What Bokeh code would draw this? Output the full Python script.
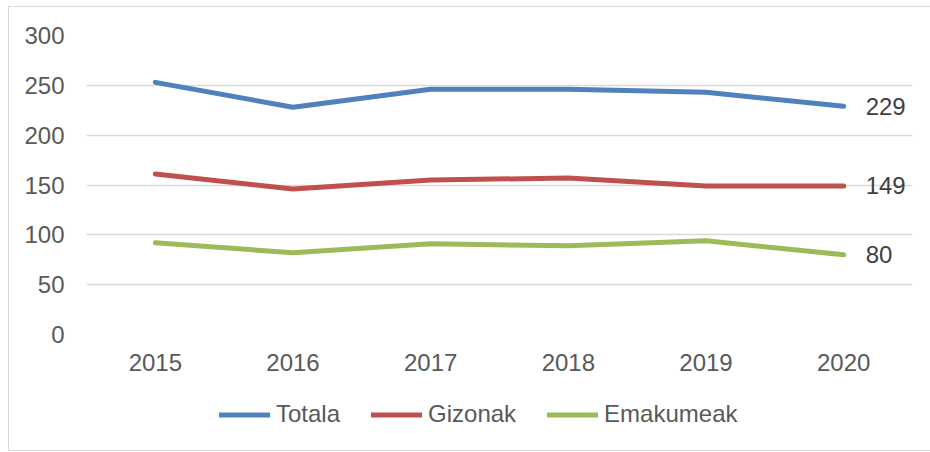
from bokeh.plotting import figure
from bokeh.models import ColumnDataSource, Legend, LegendItem, FactorRange, Range1d
from bokeh.layouts import column
from bokeh.core.properties import value
from bokeh.embed import file_html
from bokeh.resources import INLINE

years = ["2015", "2016", "2017", "2018", "2019", "2020"]
totala = [253, 228, 246, 246, 243, 229]
gizonak = [161, 146, 155, 157, 149, 149]
emakumeak = [92, 82, 91, 89, 94, 80]
series_names = ["Totala", "Gizonak", "Emakumeak"]
y_ticks = [0, 50, 100, 150, 200, 250, 300]

colors = ["#4F81BD", "#C0504D", "#9BBB59"]
FONT = "Liberation Sans"
FS = "24px"

p = figure(width=930, height=384, x_range=FactorRange(*years, range_padding=0),
           y_range=(0, 300), output_backend="svg", toolbar_location=None,
           min_border_left=86, min_border_right=18, min_border_top=35,
           min_border_bottom=50)
p.outline_line_color = None
p.background_fill_color = None
p.border_fill_color = None

p.xgrid.grid_line_color = None
p.ygrid.grid_line_color = "#D9D9D9"
p.ygrid.grid_line_width = 1.5
p.yaxis.ticker = y_ticks

for ax in (p.xaxis, p.yaxis):
    ax.axis_line_color = None
    ax.major_tick_line_color = None
    ax.minor_tick_line_color = None
    ax.major_tick_in = 0
    ax.major_tick_out = 0
    ax.major_label_text_font = FONT
    ax.major_label_text_font_size = FS
    ax.major_label_text_color = "#595959"
p.yaxis.major_label_standoff = 22
p.xaxis.major_label_standoff = 19

series = [totala, gizonak, emakumeak]
for name, vals, c in zip(series_names, series, colors):
    src = ColumnDataSource(dict(x=years, y=vals))
    p.line("x", "y", source=src, line_color=c, line_width=5,
           line_cap="round", line_join="round")

end_src = ColumnDataSource(dict(x=[years[-1]] * 3,
                                y=[s[-1] for s in series],
                                t=[str(s[-1]) for s in series]))
p.text("x", "y", text="t", source=end_src, x_offset=22, text_align="left",
       text_baseline="middle", text_font=value(FONT), text_font_size="24px",
       text_color="#404040")

# legend strip below the chart (its frame is aligned with the chart's frame)
p2 = figure(width=930, height=67, output_backend="svg", toolbar_location=None,
            x_axis_location=None, y_axis_location=None,
            x_range=Range1d(1, 2), y_range=Range1d(1, 2),
            min_border_left=86, min_border_right=18, min_border_top=0, min_border_bottom=0)
p2.outline_line_color = None
p2.background_fill_color = None
p2.border_fill_color = None
p2.grid.grid_line_color = None
leg_renderers = []
for name, c in zip(series_names, colors):
    r = p2.line(x=[0], y=[0], line_color=c, line_width=5, line_cap="round")
    leg_renderers.append(r)

legend = Legend(items=[LegendItem(label=n, renderers=[r]) for n, r in zip(series_names, leg_renderers)],
                orientation="horizontal", location=(133, 23))
legend.label_text_font = FONT
legend.label_text_font_size = FS
legend.label_text_color = "#595959"
legend.glyph_width = 51
legend.glyph_height = 27
legend.label_height = 27
legend.label_standoff = 6
legend.spacing = 31
legend.padding = 0
legend.margin = 0
legend.border_line_color = None
legend.background_fill_alpha = 0
p2.add_layout(legend, "center")

g = "linear-gradient(#D9D9D9,#D9D9D9)"
layout = column(p, p2, spacing=0, styles={
    "background": f"{g} 8px 6px / 1px 445px no-repeat, {g} 8px 6px / 922px 1px no-repeat, "
                  f"{g} 8px 450px / 922px 1px no-repeat, white"})

open("out.html", "w").write(file_html(layout, INLINE))
